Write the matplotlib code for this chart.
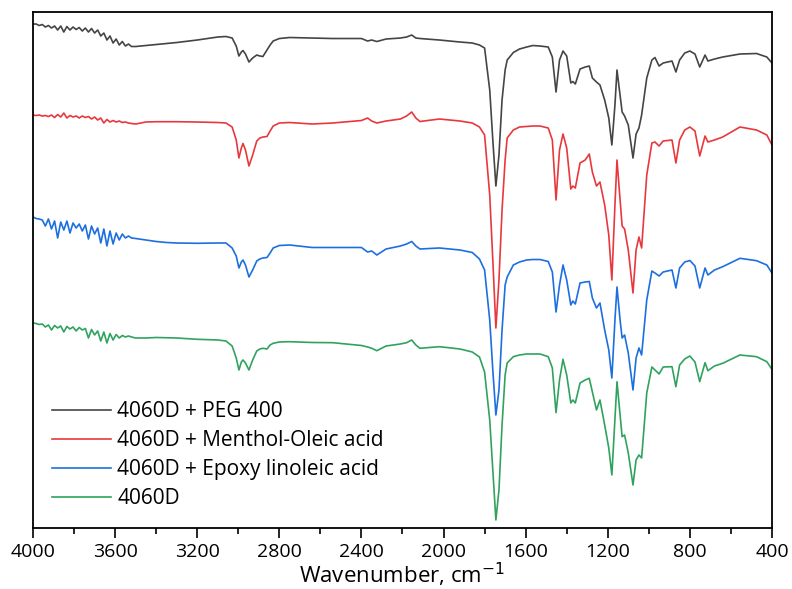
import matplotlib
matplotlib.use("Agg")
import matplotlib.pyplot as plt
from matplotlib.ticker import MultipleLocator

plt.rcParams["font.family"] = ["Open Sans", "DejaVu Sans"]

# wavenumbers (cm-1) shared by all four spectra
wavenumber = [4000, 3985, 3970, 3955, 3940, 3925, 3910, 3895, 3880, 3865, 3850, 3835,
              3820, 3805, 3790, 3775, 3760, 3745, 3730, 3715, 3700, 3685, 3670, 3655,
              3640, 3625, 3610, 3595, 3580, 3565, 3550, 3535, 3520, 3500,
              3450, 3400, 3350, 3300, 3200, 3100, 3060, 3030, 3010, 2997, 2985, 2977,
              2965, 2948, 2930, 2910, 2895, 2880, 2860, 2845, 2830, 2800, 2750, 2640,
              2540, 2400, 2370, 2350, 2325, 2280, 2210, 2180, 2155, 2135, 2115, 2020,
              1920, 1860, 1825, 1800, 1775, 1760, 1745, 1730, 1715, 1700, 1690, 1660,
              1630, 1595, 1565, 1530, 1490, 1470, 1452, 1435, 1418, 1400, 1380, 1370,
              1358, 1335, 1310, 1290, 1275, 1255, 1238, 1215, 1195, 1180, 1165, 1155,
              1140, 1130, 1118, 1100, 1077, 1062, 1048, 1035, 1010, 985, 970, 950,
              930, 887, 868, 850, 825, 800, 775, 752, 726, 712, 680, 640,
              556, 475, 425, 400]

# stacked transmittance, arbitrary units
peg400 = [504, 504, 502.5, 503.5, 501, 502.5, 500, 502, 498, 502, 496, 501.5,
          498, 501, 498.5, 500.5, 497, 500, 496, 499.5, 495, 498, 492, 495,
          488, 492, 485, 489, 483, 486.5, 482, 484, 481.5, 481.5,
          482.5, 483.5, 484.5, 485.5, 488, 491, 491.5, 490, 482, 472, 476, 477.5,
          474, 466, 470, 473, 472, 471.5, 478, 483, 487, 489.5, 490.5, 490,
          489.5, 489.5, 487, 488, 486.5, 489, 490, 491, 493, 490, 489.5, 488,
          486, 485, 483, 480, 438, 388, 342, 373, 428, 458, 468, 475.5,
          479, 481, 482.5, 482, 481, 471, 436, 468, 477, 472, 445, 446.5,
          444, 459, 461, 462, 450, 446, 443, 428, 410, 383, 423, 458,
          433, 416, 412, 403, 370, 394, 400, 413, 450, 468, 470.5, 462,
          465, 467, 456, 468, 475, 477, 474, 461, 473, 467, 469, 471,
          474, 474.5, 471, 465]

menthol_oleic = [413, 412.5, 413, 412, 412.5, 411.5, 413, 410.5, 413.5, 411, 415, 410,
                 412.5, 411, 412, 410, 412, 410.5, 411.5, 409, 411, 408, 410, 405,
                 408.5, 406, 407.5, 406, 407, 405.5, 406, 405, 404.5, 404,
                 406, 406.3, 406.3, 406.3, 406, 405.5, 405, 401, 388, 370, 380, 384.5,
                 378, 362, 373, 387, 390, 391, 391.5, 397, 402, 405, 405.5, 404,
                 405, 407.5, 410, 407, 405, 407, 409, 412, 416, 410, 406.5, 409,
                 407, 405, 401, 393, 333, 268, 200, 248, 318, 368, 390, 398,
                 401, 401.5, 402, 402, 400, 388, 328, 378, 394, 380, 339, 342,
                 340, 365, 368, 374, 356, 342, 346, 323, 293, 248, 323, 368,
                 328, 302, 299, 278, 235, 278, 291, 280, 353, 385, 386, 382,
                 387, 388, 365, 388, 398, 401, 397, 372, 392, 386, 388, 391,
                 401, 398, 393, 383]

epoxy_linoleic = [311, 309.5, 309, 308, 302, 309, 299, 307, 290, 306, 298, 307,
                  295, 305, 300, 304, 297, 303, 289, 302, 294, 300, 285, 299,
                  282, 297, 284, 295, 288, 294, 290, 292, 290, 289.5,
                  288, 286.5, 285.5, 285, 284.7, 285, 285, 280, 272, 260, 266, 268,
                  263, 251, 258, 267, 269, 270, 270.5, 275, 280, 282.5, 283, 280.5,
                  280.5, 280.5, 276, 277, 273, 279, 282, 284, 286.5, 282, 279, 280,
                  278, 275.5, 269, 258, 208, 158, 113, 138, 198, 243, 251, 263,
                  266, 268, 268.5, 268.5, 266.5, 256, 216, 243, 263, 248, 223, 227,
                  224, 245, 246, 246.5, 230, 220, 225, 198, 178, 150, 208, 241,
                  208, 190, 193, 175, 138, 170, 180, 173, 228, 257, 255, 252,
                  256, 258, 240, 260, 266, 267.5, 262, 240, 260, 253, 258, 261.3,
                  269.7, 267.3, 263, 255]

neat_4060d = [205, 204.5, 203.5, 204, 201, 203, 198, 202.5, 200, 202, 196, 201.5,
              199, 201, 197, 200.5, 198, 199.5, 190, 198.5, 193, 197, 187, 196,
              185, 194.5, 188, 193.5, 190, 192.5, 191, 192, 191, 190,
              190, 190.5, 190.3, 190, 188.7, 188, 187, 182, 170, 158, 166, 168,
              165, 158, 168, 177, 179, 179.7, 179, 183, 184.7, 186, 186.3, 185.5,
              185.3, 182.5, 181, 179.7, 177.3, 182, 184, 185.3, 188, 183, 179.7, 181.3,
              179, 176, 171, 156, 108, 58, 8, 38, 103, 153, 165, 171.3,
              173, 174, 174, 174, 171.3, 160, 115.3, 148, 168.7, 153, 125, 128,
              125, 145, 148, 149.7, 136, 118, 128, 103, 80, 53, 108, 146.3,
              113, 91.3, 93, 75, 43, 68, 73, 70, 135, 161, 158, 154,
              161, 161.3, 141.3, 163, 169, 172, 166, 146.3, 165.3, 157.3, 162, 164.7,
              173, 171.3, 166.3, 158.7]

labels = ["4060D + PEG 400", "4060D + Menthol-Oleic acid",
          "4060D + Epoxy linoleic acid", "4060D"]
colors = ["#454545", "#e8383d", "#1c6fe0", "#2fa35e"]

fig = plt.figure(figsize=(7.92, 5.89), dpi=100)
ax = fig.add_axes([0.0417, 0.1036, 0.933, 0.876])

for series, lab, col in zip([peg400, menthol_oleic, epoxy_linoleic, neat_4060d], labels, colors):
    ax.plot(wavenumber, series, color=col, lw=1.2, label=lab)

ax.set_xlim(4000, 400)
ax.set_ylim(0, 516)
ax.xaxis.set_major_locator(MultipleLocator(400))
ax.xaxis.set_minor_locator(MultipleLocator(200))
ax.tick_params(axis="x", which="major", direction="out", length=7, width=1.2,
               labelsize=14, pad=4)
ax.tick_params(axis="x", which="minor", direction="out", length=4, width=1.2)
ax.set_yticks([])
for s in ax.spines.values():
    s.set_linewidth(1.3)

ax.set_xlabel("Wavenumber, cm$^{-1}$", fontsize=16, labelpad=0)

ax.legend(loc="lower left", frameon=False, fontsize=15, handlelength=2.85,
          handletextpad=0.3, labelspacing=0.38, bbox_to_anchor=(0.0, 0.0))

fig.savefig("out.png", dpi=100)
